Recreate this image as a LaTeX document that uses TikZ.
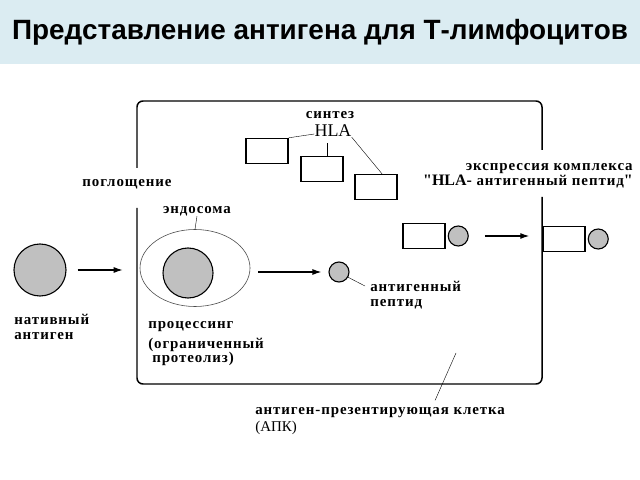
\documentclass[tikz,border=0pt]{standalone}
\usepackage{fontspec}
\setmainfont{Liberation Serif}
\newfontfamily\titlefont{Liberation Sans}
\newfontfamily\lblfont[LetterSpace=6]{Liberation Serif}
\newfontfamily\quotefont[Ligatures=TeXOff]{Liberation Serif}
\usetikzlibrary{arrows.meta,positioning,shapes.geometric}
\definecolor{titlebg}{RGB}{219,236,242}
\definecolor{aggray}{RGB}{192,192,192}

\begin{document}
\begin{tikzpicture}[x=1bp,y=-1bp,semithick,
  lbl/.style={font=\lblfont\bfseries\fontsize{15}{14.5}\selectfont,align=left,inner sep=0pt},
  ag/.style={circle,draw,line width=1.1pt,fill=aggray,inner sep=0pt,minimum size=#1},
  hla/.style={rectangle,draw,line width=1.4pt,minimum width=42bp,minimum height=25bp,inner sep=0pt},
  arr/.style={-{Latex[length=9bp,width=6bp]},line width=1.2pt}]
\useasboundingbox (0,0) rectangle (640,480);
\fill[titlebg] (0,0) rectangle (640,64);
\node[font=\titlefont\bfseries\fontsize{28}{30}\selectfont] (title) at (320,32) {Представление антигена для Т-лимфоцитов};
\draw[line width=1.5pt,rounded corners=6bp] (137,168) |- (542,101) -- (542,150);
\draw[line width=1.5pt,rounded corners=6bp] (137,208) |- (542,384) -- (542,197);
\node[ag=52bp] (nat) at (40,270) {};
\node[lbl,anchor=west] (natlbl) at (14,327) {нативный\\антиген};
\node[ellipse,draw=black!70,line width=0.6pt,minimum width=110bp,minimum height=77bp] (endo) at (195,268) {};
\node[ag=50bp] (agin) at (188,273) {};
\node[lbl] (endolbl) at (197,211) {эндосома};
\draw[thin] (endolbl.south) -- (endo.north);
\draw[arr] ([xshift=11bp]nat.east) -- ([xshift=-17bp]endo.west |- nat.east);
\node[lbl] (uptake) at (127,184) {поглощение};
\node[lbl,anchor=west] (proc) at (148,327) {процессинг};
\node[lbl,anchor=west] (prot) at (148,352) {(ограниченный\\\hspace{4bp}протеолиз)};
\node[ag=20bp] (pep) at (339,272) {};
\draw[arr] ([xshift=8bp]endo.east |- pep.west) -- ([xshift=-7bp]pep.west);
\node[lbl,anchor=west] (peplbl) at (370,295) {антигенный\\пептид};
\draw[thin] (pep.-30) -- ([xshift=-5bp,yshift=-5bp]peplbl.north west);
\node[lbl] (synt) at (330,115) {синтез};
\node[font=\fontsize{18}{20}\selectfont,inner sep=0pt] (hla) at (333,131) {HLA};
\node[hla] (h1) at (267,151) {};
\node[hla] (h2) at (322,169) {};
\node[hla] (h3) at (376,187) {};
\draw[thin] (h1.north east) -- ([yshift=-3bp]hla.west);
\draw[thin] ([xshift=5bp]h2.north) -- ([xshift=5bp,yshift=-6bp]h2.north |- hla.south);
\draw[thin] ([xshift=6bp]h3.north) -- (hla.south east);
\node[hla] (c1) at (424,236) {};
\node[ag=20bp,right=2bp of c1] (p1) {};
\node[hla] (c2) at (564,239) {};
\node[ag=20bp,right=2bp of c2] (p2) {};
\draw[arr] ([xshift=16bp]p1.east) -- ([xshift=-13bp]c2.west |- p1.east);
\node[lbl,align=right,anchor=east] (expr) at (633,176) {экспрессия комплекса\\{\quotefont\fontsize{16}{14}\selectfont"HLA-} антигенный пептид{\quotefont\fontsize{16}{14}\selectfont"}};
\node[lbl,anchor=west] (apc) at (255,421) {антиген-презентирующая клетка\\[2bp]{\normalfont\fontsize{15}{14}\selectfont(АПК)}};
\coordinate (cellpt) at (456,353);
\draw[thin] (cellpt) -- ([xshift=55bp,yshift=7bp]apc.north);
\end{tikzpicture}
\end{document}
